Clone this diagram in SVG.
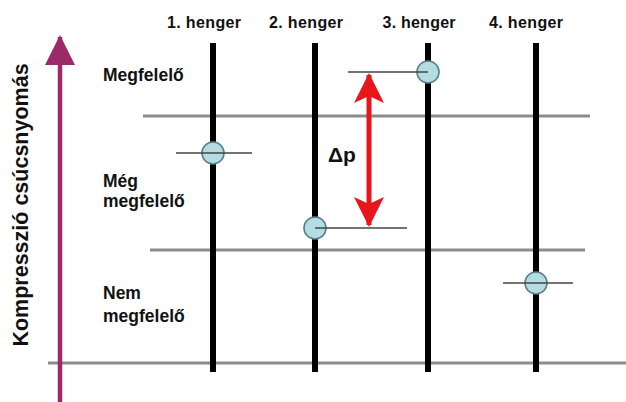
<svg xmlns="http://www.w3.org/2000/svg" width="626" height="402" viewBox="0 0 626 402">
  <style>
    .lbl { font-family: "Liberation Sans", Arial, sans-serif; font-weight: bold; fill: #111; }
    .head { font-size: 16px; text-anchor: middle; }
    .zone { font-size: 17.5px; }
    .band { stroke: #8c8c8c; stroke-width: 3; fill: none; }
    .bar { stroke: #000; stroke-width: 6; fill: none; }
    .tick { stroke: #444; stroke-width: 1.6; fill: none; }
    .dot { fill: #b3dde2; stroke: #5d7f86; stroke-width: 1.6; }
  </style>
  <defs>
    <marker id="redHead" viewBox="0 0 30 30" refX="28" refY="15" markerWidth="30" markerHeight="30" markerUnits="userSpaceOnUse" orient="auto-start-reverse">
      <path d="M30 15 L0 0 L7 15 L0 30 Z" fill="#e8161b"/>
    </marker>
    <marker id="axisHead" viewBox="0 0 30 30" refX="28" refY="15" markerWidth="30" markerHeight="30" markerUnits="userSpaceOnUse" orient="auto">
      <path d="M30 15 L0 0 L0 30 Z" fill="#9c2a68"/>
    </marker>
  </defs>

  <rect width="626" height="402" fill="#fff"/>

  <!-- zone boundaries and base line -->
  <g id="bands">
    <line class="band" x1="143" y1="116" x2="590" y2="116"/>
    <line class="band" x1="150" y1="250" x2="585" y2="250"/>
    <line class="band" x1="48" y1="363" x2="626" y2="363"/>
  </g>

  <!-- vertical pressure axis -->
  <g id="axis">
    <line x1="60" y1="402" x2="60" y2="37" stroke="#9c2a68" stroke-width="4.5" marker-end="url(#axisHead)"/>
    <text class="lbl" font-size="21.5" transform="translate(28 205) rotate(-90)" text-anchor="middle">Kompresszió csúcsnyomás</text>
  </g>

  <!-- zone labels -->
  <g id="zone-ok">
    <text class="lbl zone" x="103" y="81">Megfelelő</text>
  </g>
  <g id="zone-still-ok">
    <text class="lbl zone" x="103" y="187">Még</text>
    <text class="lbl zone" x="103" y="207">megfelelő</text>
  </g>
  <g id="zone-bad">
    <text class="lbl zone" x="103" y="299">Nem</text>
    <text class="lbl zone" x="103" y="322">megfelelő</text>
  </g>

  <!-- cylinders -->
  <g id="cyl1">
    <text class="lbl head" x="204" y="28" textLength="74">1. henger</text>
    <line class="bar" x1="213" y1="43" x2="213" y2="372"/>
    <circle class="dot" cx="213" cy="153" r="11"/>
    <line class="tick" x1="176" y1="153" x2="252" y2="153"/>
  </g>
  <g id="cyl2">
    <text class="lbl head" x="306" y="28" textLength="74">2. henger</text>
    <line class="bar" x1="315" y1="43" x2="315" y2="372"/>
    <circle class="dot" cx="315" cy="228" r="11"/>
    <line class="tick" x1="315" y1="228" x2="407" y2="228"/>
  </g>
  <g id="cyl3">
    <text class="lbl head" x="419" y="28" textLength="73">3. henger</text>
    <line class="bar" x1="428" y1="43" x2="428" y2="372"/>
    <circle class="dot" cx="428" cy="72" r="11"/>
    <line class="tick" x1="348" y1="72" x2="428" y2="72"/>
  </g>
  <g id="cyl4">
    <text class="lbl head" x="526" y="28" textLength="74">4. henger</text>
    <line class="bar" x1="536" y1="43" x2="536" y2="372"/>
    <circle class="dot" cx="536" cy="283" r="11"/>
    <line class="tick" x1="503" y1="283" x2="573" y2="283"/>
  </g>

  <!-- pressure difference -->
  <g id="connectors">
    <line x1="369" y1="75" x2="369" y2="225" stroke="#e8161b" stroke-width="5" marker-start="url(#redHead)" marker-end="url(#redHead)"/>
  </g>
  <g id="delta-label">
    <text class="lbl" font-size="21" x="328" y="162">Δp</text>
  </g>
</svg>
